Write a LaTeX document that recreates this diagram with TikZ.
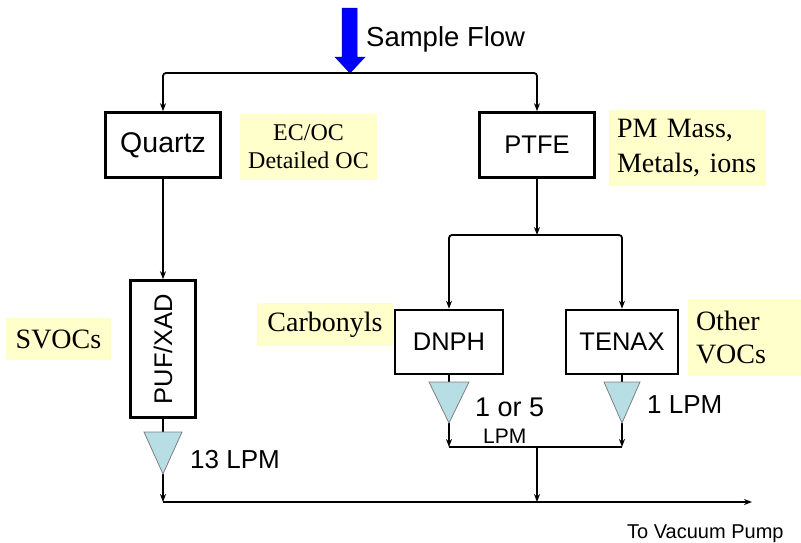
\documentclass[tikz,border=0pt]{standalone}
\usepackage{fontspec}
\setmainfont{Liberation Sans}
\newfontfamily\notefont{Liberation Serif}
\usetikzlibrary{arrows.meta}
\definecolor{notebg}{RGB}{255,255,204}
\definecolor{valvebg}{RGB}{183,222,228}
\definecolor{flowblue}{RGB}{0,0,255}
\tikzset{
  pipe/.style={line width=1.8pt},
  flow/.style={pipe,-{Stealth[length=8pt,width=6pt]}},
  filt/.style={draw,line width=2.6pt,inner sep=0pt,font=\fontsize{25.5}{30}\selectfont},
  note/.style={fill=notebg,inner xsep=8pt,inner ysep=0pt,font=\notefont\fontsize{28}{35}\selectfont},
  valve/.style={draw=gray,fill=valvebg,line width=0.8pt},
  lbl/.style={anchor=base west,inner sep=0pt,font=\fontsize{26}{30}\selectfont}
}
\begin{document}
\begin{tikzpicture}[x=1pt,y=-1pt]
\useasboundingbox (0,0) rectangle (801,542);
% inlet arrow
\fill[flowblue,draw=blue!60!black,line width=0.5pt] (342,8) -- (357,8) -- (357,57) -- (365,57) -- (350,73) -- (335,57) -- (342,57) -- cycle;
\coordinate (inlet) at (350,73);
\node[lbl,font=\fontsize{27.5}{30}\selectfont] (sample) at (366,46) {Sample Flow};
% filters and cartridges
\node[filt,minimum width=115pt,minimum height=65pt,font=\fontsize{28.5}{30}\selectfont] (quartz) at (163,145) {Quartz};
\node[filt,minimum width=115pt,minimum height=65pt] (ptfe) at (537,145) {PTFE};
\node[filt,rotate=90,minimum width=137pt,minimum height=65pt] (puf) at (163,349) {PUF/XAD};
\node[filt,minimum width=108pt,minimum height=64pt] (dnph) at (449,342) {DNPH};
\node[filt,minimum width=112pt,minimum height=64pt] (tenax) at (622,342) {TENAX};
% what each one collects
\node[note,align=center,minimum width=137pt,minimum height=66pt,font=\notefont\fontsize{24}{28}\selectfont] (ecoc) at (308.5,147) {EC/OC\\Detailed OC};
\node[note,text width=141pt,align=left,minimum height=76pt] (pmmass) at (687.5,148) {PM Mass,\\Metals, ions};
\node[note,text width=97pt,align=left,minimum height=77pt,font=\notefont\fontsize{28}{33}\selectfont] (othervoc) at (744.5,337.5) {Other\\VOCs};
\node[note,minimum width=136pt,minimum height=43pt] (carbonyl) at (325,324.5) {Carbonyls};
\node[note,minimum width=105pt,minimum height=42pt] (svoc) at (58.5,339) {SVOCs};
% junctions
\coordinate (split) at (537,235);
\coordinate (pufin) at (163,432); \coordinate (pufout) at (163,474);
\coordinate (dnphin) at (449,382); \coordinate (dnphout) at (449,423);
\coordinate (tenaxin) at (622,382); \coordinate (tenaxout) at (622,423);
\coordinate (mergel) at (449,447); \coordinate (merger) at (622,447); \coordinate (merge) at (537,447);
\coordinate (drainl) at (163,502); \coordinate (drainm) at (537,502); \coordinate (pump) at (752,502);
% flow lines
\draw[flow,rounded corners=3pt] (inlet) -| (quartz);
\draw[flow,rounded corners=3pt] (inlet) -| (ptfe);
\draw[flow] (quartz) -- (puf);
\draw[pipe] (puf) -- (pufin);
\draw[flow] (pufout) -- (drainl);
\draw[flow] (ptfe) -- (split);
\draw[flow,rounded corners=3pt] (split) -| (dnph);
\draw[flow,rounded corners=3pt] (split) -| (tenax);
\draw[pipe] (dnph) -- (dnphin); \draw[pipe] (tenax) -- (tenaxin);
\draw[flow] (dnphout) -- (mergel); \draw[flow] (tenaxout) -- (merger);
\draw[pipe] (mergel) -- (merger);
\draw[flow] (merge) -- (drainm);
\draw[flow] (drainl) -- (pump);
% flow controllers
\draw[valve] (144,432) -- (182,432) -- (pufout) -- cycle;
\draw[valve] (429,382) -- (469,382) -- (dnphout) -- cycle;
\draw[valve] (604,382) -- (640,382) -- (tenaxout) -- cycle;
\node[lbl] (lpmpuf) at (190,468) {13 LPM};
\node[lbl,font=\fontsize{27}{30}\selectfont] (lpmdnph) at (475,416) {1 or 5};
\node[lbl,font=\fontsize{21}{24}\selectfont] (lpmdnphb) at (483,443) {LPM};
\node[lbl] (lpmtenax) at (647,413) {1 LPM};
\node[lbl,font=\fontsize{20}{24}\selectfont] (pumplbl) at (627,538) {To Vacuum Pump};
\end{tikzpicture}
\end{document}
